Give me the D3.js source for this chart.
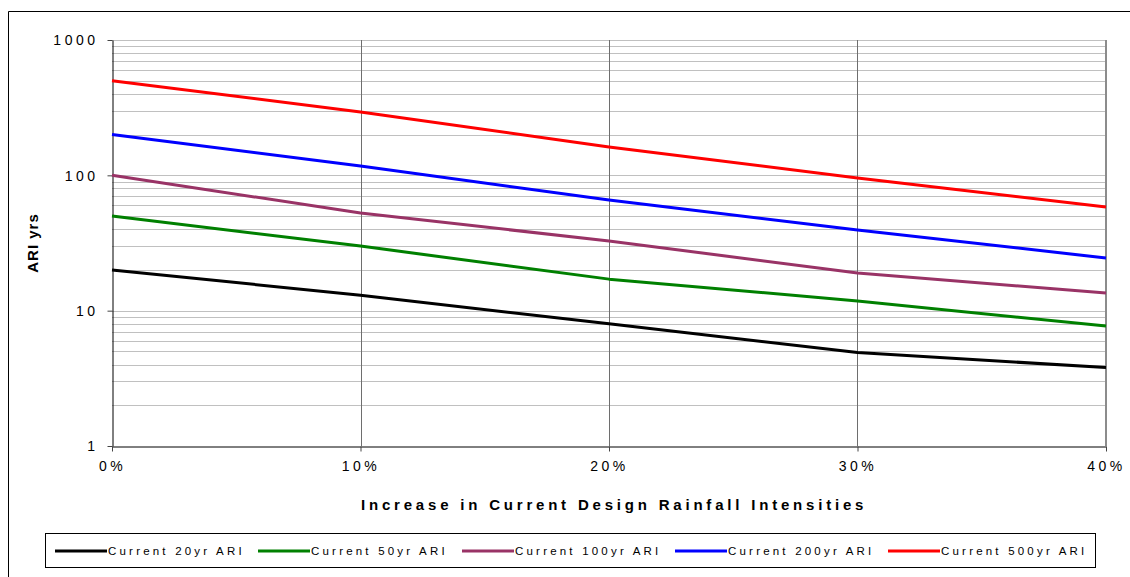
<!DOCTYPE html>
<html>
<head>
<meta charset="utf-8">
<script src="https://cdn.jsdelivr.net/npm/d3@7"></script>
<style>
  html, body { margin: 0; padding: 0; background: #fff; }
  svg { display: block; font-family: "Liberation Sans", Arial, sans-serif; }
</style>
</head>
<body>
<svg id="chart" width="1130" height="577"></svg>
<script>
// Rainfall intensity increase (fraction) along the x axis
const increases = [0, 0.1, 0.2, 0.3, 0.4];
const xTickLabels = ["0%", "10%", "20%", "30%", "40%"];
const yTickValues = [1, 10, 100, 1000];

const seriesNames = ["Current 20yr ARI", "Current 50yr ARI", "Current 100yr ARI", "Current 200yr ARI", "Current 500yr ARI"];
const seriesColors = ["#000000", "#008000", "#993366", "#0000ff", "#ff0000"];

// Equivalent ARI (years) after the increase in design intensity
const ari20  = [20, 13, 8, 4.9, 3.8];
const ari50  = [50, 30, 17.1, 11.8, 7.7];
const ari100 = [100, 52.7, 32.7, 19, 13.5];
const ari200 = [200, 117, 65.7, 39.5, 24.5];
const ari500 = [500, 294, 162, 95.6, 58.3];
const seriesValues = [ari20, ari50, ari100, ari200, ari500];

const svg = d3.select("#chart");
const plot = { left: 112, right: 1106, top: 40, bottom: 446 };
const fontFamily = "'Liberation Sans', Arial, sans-serif";

const x = d3.scaleLinear().domain([0, 0.4]).range([plot.left, plot.right]);
const y = d3.scaleLog().domain([1, 1000]).range([plot.bottom, plot.top]);

// Outer chart frame
svg.append("path")
  .attr("d", "M8.5,600 V11.5 H1140")
  .attr("fill", "none").attr("stroke", "#000").attr("stroke-width", 1);

// Horizontal gridlines at every 1..9 step of each decade
const gridVals = [];
for (let d = 1; d <= 100; d *= 10) for (let m = 1; m <= 9; m++) gridVals.push(d * m);
gridVals.push(1000);
svg.append("g").selectAll("line")
  .data(gridVals.filter(v => v > 1))
  .join("line")
  .attr("x1", plot.left).attr("x2", plot.right)
  .attr("y1", d => Math.round(y(d)) + 0.5).attr("y2", d => Math.round(y(d)) + 0.5)
  .attr("stroke", "#c0c0c0").attr("stroke-width", 1);

// Vertical gridlines
svg.append("g").selectAll("line")
  .data(increases.slice(1, 4))
  .join("line")
  .attr("x1", d => Math.round(x(d)) + 0.5).attr("x2", d => Math.round(x(d)) + 0.5)
  .attr("y1", plot.top).attr("y2", plot.bottom)
  .attr("stroke", "#6e6e6e").attr("stroke-width", 1);

// Right plot edge
svg.append("line")
  .attr("x1", plot.right).attr("x2", plot.right)
  .attr("y1", plot.top).attr("y2", plot.bottom)
  .attr("stroke", "#8c8c8c").attr("stroke-width", 2);

// Y axis
const yAxis = d3.axisLeft(y).tickValues(yTickValues).tickFormat(d3.format("d")).tickSize(5).tickSizeOuter(0);
const gy = svg.append("g").attr("transform", `translate(${plot.left + 0.5},0)`).call(yAxis);
gy.select(".domain").attr("stroke", "#000");
gy.selectAll(".tick line").attr("stroke", "#444");
gy.selectAll(".tick text")
  .attr("x", -14).attr("dy", "0.35em")
  .style("font-size", "14px").style("letter-spacing", "3.5px")
  .attr("fill", "#000").style("font-family", fontFamily);

// X axis
const xAxis = d3.axisBottom(x).tickValues(increases).tickFormat((d, i) => xTickLabels[i]).tickSize(5).tickSizeOuter(0);
const gx = svg.append("g").attr("transform", `translate(0,${plot.bottom + 0.5})`).call(xAxis);
gx.select(".domain").attr("stroke", "#000");
gx.selectAll(".tick line").attr("stroke", "#444");
gx.selectAll(".tick text")
  .attr("y", 15)
  .style("font-size", "14px").style("letter-spacing", "3.5px")
  .attr("fill", "#000").style("font-family", fontFamily);

// Series lines
const line = d3.line().x((d, i) => x(increases[i])).y(d => y(d));
svg.append("g").selectAll("path")
  .data(seriesValues)
  .join("path")
  .attr("d", d => line(d))
  .attr("fill", "none")
  .attr("stroke", (d, i) => seriesColors[i])
  .attr("stroke-width", 3)
  .attr("stroke-linejoin", "round");

// Axis titles
svg.append("text")
  .attr("x", 361).attr("y", 510)
  .attr("text-anchor", "start")
  .style("font-size", "15px").style("font-weight", "bold").style("letter-spacing", "3.8px")
  .text("Increase in Current Design Rainfall Intensities");

svg.append("text")
  .attr("transform", "translate(38,243) rotate(-90)")
  .attr("text-anchor", "middle")
  .style("font-size", "15px").style("font-weight", "bold").style("letter-spacing", "1px")
  .text("ARI yrs");

// Legend
const legend = svg.append("g");
legend.append("rect")
  .attr("x", 45.5).attr("y", 533.5).attr("width", 1050).attr("height", 34)
  .attr("fill", "#fff").attr("stroke", "#000").attr("stroke-width", 1);
const legendX = [55, 258, 462, 675, 888];
const items = legend.selectAll("g.item")
  .data(seriesNames)
  .join("g").attr("class", "item")
  .attr("transform", (d, i) => `translate(${legendX[i]},551)`);
items.append("line")
  .attr("x1", 0).attr("x2", 52)
  .attr("stroke", (d, i) => seriesColors[i]).attr("stroke-width", 3);
items.append("text")
  .attr("x", 53).attr("dy", "0.35em")
  .style("font-size", "11.5px").style("letter-spacing", "3.2px")
  .text(d => d);
</script>
</body>
</html>
